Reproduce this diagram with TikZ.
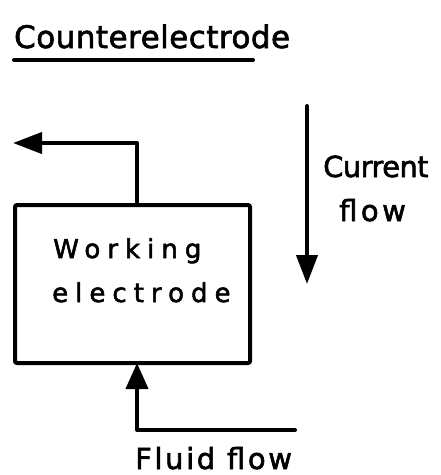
\documentclass[tikz,border=0pt]{standalone}
\usepackage{fontspec}
\setmainfont{DejaVu Sans}[FakeBold=2, AutoFakeBold=2]
\usetikzlibrary{arrows.meta}
\begin{document}
\begin{tikzpicture}[x=1pt,y=-1pt,
  line/.style={line width=4pt, line join=round, line cap=round},
  arr/.style={line, -{Triangle[length=29pt,width=21pt]}},
  lbl/.style={inner sep=0pt, anchor=base west}]
\useasboundingbox (0,0) rectangle (441,475);
% title
\node[lbl, font=\bfseries\fontsize{31}{31}\selectfont\addfontfeature{LetterSpace=1.5}] (ce) at (14,48) {Counterelectrode};
\coordinate (ul1) at (14,60);
\coordinate (ul2) at (253,60);
\draw[line] (ul1) -- (ul2);
% working electrode box
\node[draw, line width=4pt, rounded corners=2pt, minimum width=235pt, minimum height=158pt, inner sep=0pt] (we) at (132.5,284) {};
\node[lbl, font=\bfseries\fontsize{26}{26}\selectfont\addfontfeature{LetterSpace=27}] (w1) at (53,258) {Working};
\node[lbl, font=\bfseries\fontsize{26}{26}\selectfont\addfontfeature{LetterSpace=27}] (w2) at (52,302) {electrode};
% outlet at top
\coordinate (o0) at (137,205);
\coordinate (o1) at (137,143);
\coordinate (o2) at (13,143);
\draw[arr] (o0) -- (o1) -- (o2);
% fluid inlet at bottom
\coordinate (i0) at (295,430);
\coordinate (i1) at (137,430);
\coordinate (i2) at (137,363);
\draw[line, -{Triangle[length=26pt,width=22pt]}] (i0) -- (i1) -- (i2);
\node[lbl, font=\bfseries\fontsize{29}{29}\selectfont\addfontfeature{LetterSpace=9}] (ff) at (135,469) {Fluid flow};
% current flow
\coordinate (c0) at (307,106);
\coordinate (c1) at (307,284);
\draw[arr] (c0) -- (c1);
\node[lbl, font=\bfseries\fontsize{29}{29}\selectfont\addfontfeature{LetterSpace=-2}] (cf1) at (323,177) {Current};
\node[lbl, font=\bfseries\fontsize{29}{29}\selectfont\addfontfeature{LetterSpace=12}] (cf2) at (339,221) {flow};
\end{tikzpicture}
\end{document}
